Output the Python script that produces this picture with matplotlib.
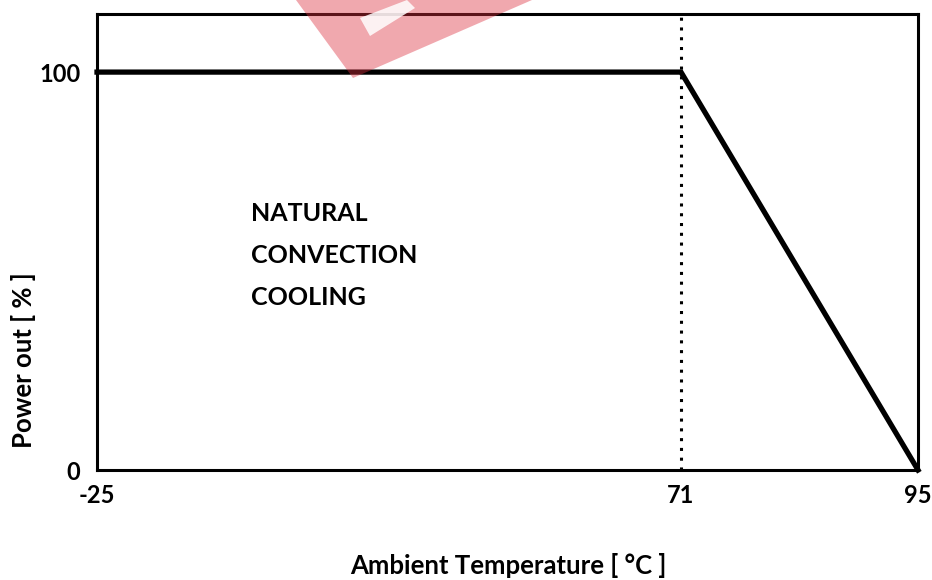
import numpy as np
import matplotlib.pyplot as plt
from matplotlib.patches import Polygon

plt.rcParams['font.family'] = ['Lato', 'DejaVu Sans']
plt.rcParams['font.weight'] = 'bold'

temp = [-25, 71, 95]
power = [100, 100, 0]
xticks = [-25, 71, 95]
yticks = [0, 100]
label_lines = ['NATURAL', 'CONVECTION', 'COOLING']

# the drawing is schematic: the x axis is not linear
xk = [-25, 71, 95]
xp = [0.0, 584.0, 821.0]
fwd = lambda v: np.interp(v, xk, xp)
inv = lambda v: np.interp(v, xp, xk)

W, H = 932, 580
fig = plt.figure(figsize=(W/100, H/100), dpi=100)
ax = fig.add_axes([97/W, 110/H, 821/W, 456/H])
ax.set_xscale('function', functions=(fwd, inv))

ax.plot(temp, power, color='black', linewidth=3.8, solid_joinstyle='miter', clip_on=False, zorder=3)
ax.axvline(71, color='black', linestyle=(0, (1, 2.2)), linewidth=2.2, zorder=2)

ax.set_xlim(-25, 95)
ax.set_ylim(0, 114.6)
ax.set_xticks(xticks)
ax.set_yticks(yticks)
ax.set_xticklabels([str(v) for v in xticks])
ax.set_yticklabels([str(v) for v in yticks])
ax.tick_params(length=0, labelsize=17)
ax.tick_params(axis='x', pad=10)
ax.tick_params(axis='y', pad=12)
for s in ax.spines.values():
    s.set_linewidth(2.2)

ax.text(0.3, 54, '\n'.join(label_lines), fontsize=18, va='center', ha='left', linespacing=2.0)

fig.text(508/W, 1 - 565/H, 'Ambient Temperature [ °C ]', fontsize=18.5, ha='center', va='center')
fig.text(24/W, 1 - 360/H, 'Power out [ % ]', fontsize=18.5, ha='center', va='center', rotation=90)

# faint watermark at the top
def flip(pts):
    return [[x, H - y] for x, y in pts]

wm = Polygon(flip([[296, 0], [353, 78], [532, 0]]), closed=True, transform=None,
             facecolor='#dc3040', alpha=0.42, edgecolor='none', zorder=5)
fig.patches.append(wm)
hole = Polygon(flip([[360, 18], [370, 36], [415, 8], [407, 0]]), closed=True, transform=None,
               facecolor='white', alpha=0.85, edgecolor='none', zorder=6)
fig.patches.append(hole)

fig.savefig('out.png', dpi=100)
